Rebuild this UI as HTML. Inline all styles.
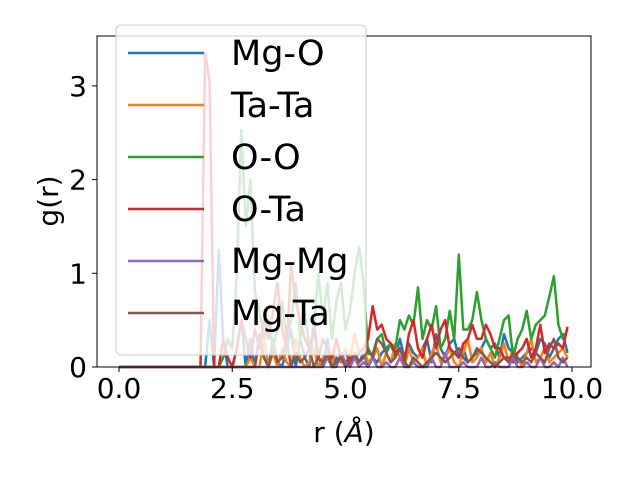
<!DOCTYPE html>
<html><head><meta charset="utf-8"><style>
body{margin:0;background:#fff;}
svg{display:block;font-family:"DejaVu Sans","Liberation Sans",sans-serif;}
</style></head><body>
<svg id="chart" width="640" height="480"></svg>
<script>
const seriesNames=["Mg-O","Ta-Ta","O-O","O-Ta","Mg-Mg","Mg-Ta"];
const colors=["#1f77b4","#ff7f0e","#2ca02c","#d62728","#9467bd","#8c564b"];
const xTicks=[0,2.5,5,7.5,10];
const xTickLabels=["0.0","2.5","5.0","7.5","10.0"];
const yTicks=[0,1,2,3];
const yTickLabels=["0","1","2","3"];
const zeros18=new Array(18).fill(0);
const mgO=zeros18.concat([0,0,0.5,0,1.25,0.3,0,0,0.2,0.5,0,0.3,0,0.35,0.1,0,0.3,0.05,0,0.2,0.4,0,0.3,0.1,0,0.5,0.1,0,0.3,0,0.1,0.05,0.2,0,0.1,0.05,0.15,0,0.1,0.05,0.15,0.2,0.25,0.1,0.3,0.1,0.25,0.15,0.1,0.2,0.3,0.05,0.35,0.2,0.1,0.25,0.3,0.1,0.2,0.05,0.1,0.15,0.2,0.3,0.2,0.25,0.1,0.35,0.2,0.15,0.05,0.1,0.15,0.2,0.15,0.3,0.25,0.1,0.2,0.3,0.35,0.15]);
const taTa=zeros18.concat([0,0,0,0,0,0,0,0,0,0,0,0.1,0,0,0.3,0,0.15,0,0.2,0.05,0,0.3,0.1,0,0.05,0.2,0,0.1,0.15,0,0.3,0.05,0.2,0.1,0.35,0.15,0.2,0.05,0.1,0.2,0,0.15,0.05,0.25,0.1,0,0.2,0.05,0.1,0.2,0,0.15,0.25,0.05,0.1,0.2,0.05,0,0.15,0.3,0.05,0.1,0.2,0.05,0.15,0,0.1,0.25,0.05,0.2,0.1,0,0.15,0.3,0.05,0.1,0.2,0.05,0.1,0.15,0.2,0.1]);
const oO=zeros18.concat([0,0,0,0,0,0.1,0.3,0.2,1.0,2.53,1.5,2.0,0.8,0.6,0.3,0.5,0.2,0.4,0.7,0.3,0.5,0.9,0.3,0.6,0.2,0.4,1.0,0.5,0.9,0.3,0.7,0.9,0.4,0.6,1.0,1.28,0.9,0.14,0.14,0.3,0.35,0.15,0.25,0.2,0.5,0.4,0.55,0.45,0.85,0.3,0.5,0.4,0.65,0.2,0.3,0.6,0.3,1.2,0.4,0.4,0.5,0.8,0.5,0.3,0.2,0.1,0.3,0.5,0.55,0.1,0.3,0.4,0.6,0.3,0.45,0.5,0.55,0.75,0.97,0.45,0.3,0.4,0.6,0.45]);
const oTa=zeros18.concat([0,3.35,3.05,0,0,0.3,0.1,0,0.2,0.5,0.3,0.1,0.4,0.2,0.5,0.3,0.6,0.9,0.4,0.2,1.1,0.7,0.5,0.3,0.2,0.4,0.1,0.3,0.2,0.1,0.3,0.1,0.05,0.1,0.1,0.15,0.2,0.3,0.65,0.4,0.45,0.3,0.25,0.15,0.2,0.05,0.35,0.5,0.2,0.1,0.3,0.45,0.2,0.4,0.5,0.2,0.15,0.1,0.25,0.3,0.45,0.3,0.3,0.45,0.35,0.2,0.2,0.1,0.1,0.05,0.15,0.2,0.3,0.1,0.2,0.45,0.15,0.25,0.2,0.25,0.2,0.43]);
const mgMg=zeros18.concat([0,0,0,0,0,0,0,0,0,0,0,0,0,0,0,0,0,0,0,0,0,0,0,0,0,0,0,0,0.1,0,0,0.15,0.05,0,0.1,0,0.05,0,0.1,0,0,0.05,0,0,0.1,0,0,0.05,0,0,0,0.1,0,0,0.15,0,0,0,0.05,0,0,0,0.1,0,0,0.05,0,0,0,0.1,0,0,0.05,0,0,0.1,0,0,0.05,0,0.1,0]);
const mgTa=zeros18.concat([0,0,0,0,0,0,0,0,0,0,0,0,0,0.3,0.1,0,0.2,0.05,0.1,0.3,0,0.15,0.05,0.1,0.2,0,0.1,0.05,0.15,0,0.05,0.1,0,0.05,0.15,0.05,0.1,0.2,0.1,0.3,0.25,0.15,0.05,0.1,0.2,0.05,0,0.1,0.05,0,0.05,0.1,0.15,0.1,0.05,0.1,0.15,0.2,0.1,0.05,0.1,0.2,0.15,0.1,0.05,0,0.05,0.1,0.05,0.15,0.1,0.05,0.1,0.05,0.15,0.1,0.05,0.2,0.3,0.1,0.05,0.1]);
const series=[mgO,taTa,oO,oTa,mgMg,mgTa];
const NS="http://www.w3.org/2000/svg";
const svg=document.getElementById("chart");
const L=97,R=591,T=36,B=367;
const X0=119,XS=45.3,YS=93.7;
const xs=v=>X0+v*XS, ys=v=>B-v*YS;
function mk(tag,attrs,parent){const e=document.createElementNS(NS,tag);for(const k in attrs)e.setAttribute(k,attrs[k]);(parent||svg).appendChild(e);return e;}
const plot=mk("g",{});


series.forEach((d,si)=>{
  const pts=d.slice(0,100).map((v,i)=>xs(i*0.1).toFixed(1)+","+ys(v).toFixed(1)).join(" ");
  const pl=mk("polyline",{points:pts,fill:"none",stroke:colors[si],"stroke-width":2.5,"stroke-linejoin":"round"},plot);
  
  
});
const frame=mk("rect",{x:L,y:T,width:R-L,height:B-T,fill:"none",stroke:"#000","stroke-width":1});


xTicks.forEach((t,i)=>{
  mk("line",{x1:xs(t),x2:xs(t),y1:B,y2:B+5,stroke:"#000"});
  const tx=mk("text",{x:xs(t),y:B+31,"font-size":28,"text-anchor":"middle"});
  tx.textContent=xTickLabels[i];
  
  
});
yTicks.forEach((t,i)=>{
  mk("line",{x1:L-5,x2:L,y1:ys(t),y2:ys(t),stroke:"#000"});
  const tx=mk("text",{x:L-10,y:ys(t)+10,"font-size":28,"text-anchor":"end"});
  tx.textContent=yTickLabels[i];
  
  
});
const xl=mk("text",{x:344,y:442,"font-size":28,"text-anchor":"middle"});
xl.innerHTML='r (<tspan font-style="italic">Å</tspan>)';


const yl=mk("text",{x:58,y:201,"font-size":28,"text-anchor":"middle",transform:"rotate(-90 58 201)"});
yl.textContent="g(r)";


const lg=mk("g",{});


mk("rect",{x:116,y:25,width:250,height:330,rx:5,fill:"#fff","fill-opacity":0.8,stroke:"#ccc","stroke-width":1},lg);
seriesNames.forEach((n,i)=>{
  const y=53+i*52;
  const ln=mk("line",{x1:128,x2:204,y1:y,y2:y,stroke:colors[i],"stroke-width":2.5},lg);
  
  
  const tx=mk("text",{x:231,y:y+12,"font-size":35},lg);
  tx.textContent=n;
  
  
});
</script>
</body></html>
